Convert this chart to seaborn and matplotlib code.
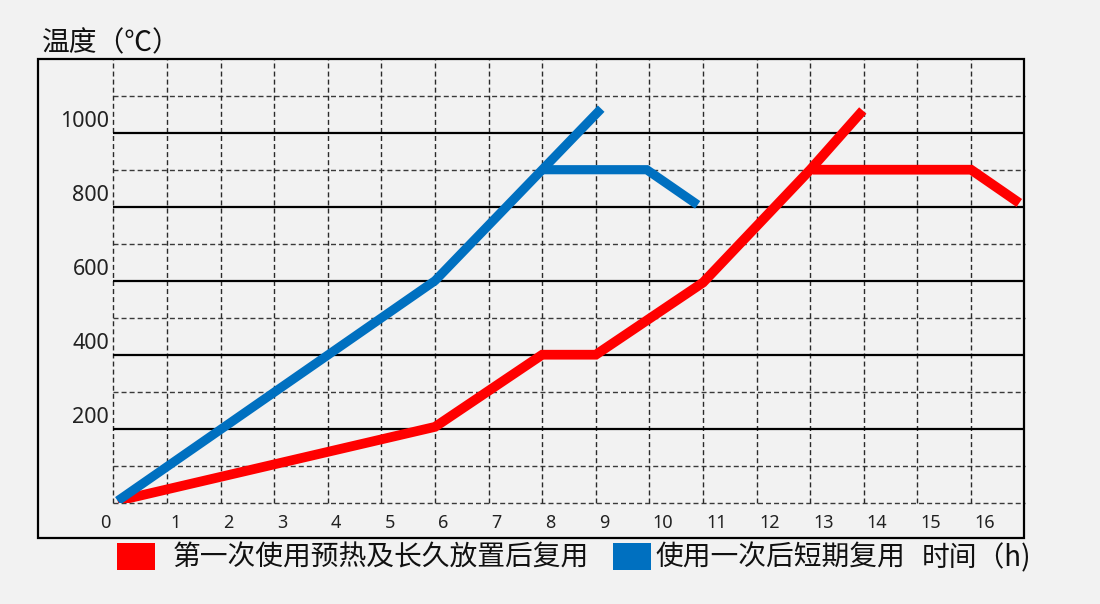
import matplotlib
matplotlib.use("Agg")
import matplotlib.pyplot as plt
import matplotlib.transforms as mtrans
from matplotlib.patches import Patch, Rectangle
import seaborn as sns
import pandas as pd

# ---------------- data ----------------
red_rise_x = [0.08, 6, 8, 9, 11, 13, 13.98]
red_rise_y = [5, 205, 400, 400, 595, 900, 1060]
red_hold_x = [13.05, 16, 16.9]
red_hold_y = [900, 900, 810]

blue_rise_x = [0.08, 6, 8, 9.1]
blue_rise_y = [5, 600, 900, 1065]
blue_hold_x = [8, 9.95, 10.9]
blue_hold_y = [900, 900, 805]

x_ticks = list(range(0, 17))
x_tick_labels = [str(v) for v in x_ticks]
y_ticks = [200, 400, 600, 800, 1000]
y_tick_labels = [str(v) for v in y_ticks]
solid_y = [200, 400, 600, 800, 1000]
dashed_y = [0, 100, 300, 500, 700, 900, 1100]
dashed_x = list(range(0, 17))

legend_red = "第一次使用预热及长久放置后复用"
legend_blue = "使用一次后短期复用"
x_title = "时间（h)"
y_title = "温度（℃）"

RED = "#ff0000"
BLUE = "#0070c0"
BG = "#f2f2f2"

# ---------------- style ----------------
sns.set_style("white")
plt.rcParams["font.family"] = ["Noto Sans CJK SC", "DejaVu Sans"]
plt.rcParams["axes.unicode_minus"] = False
TICK_FONT = ["Noto Sans", "DejaVu Sans"]

fig = plt.figure(figsize=(11, 6.04), dpi=100)
fig.patch.set_facecolor(BG)
ax = fig.add_axes([0.1031, 0.1677, 0.8284, 0.7351])
ax.set_facecolor(BG)
for s in ax.spines.values():
    s.set_visible(False)

ax.set_xlim(0, 17)
ax.set_ylim(0, 1200)

# grid
ax.hlines(dashed_y, 0, 17, colors="#3a3a3a", linewidth=1.0,
          linestyles=(0, (3.6, 2.2)), clip_on=False, zorder=1)
ax.vlines(dashed_x, 0, 1200, colors="#2a2a2a", linewidth=1.0,
          linestyles=(0, (3.6, 2.2)), clip_on=False, zorder=1)
ax.hlines(solid_y, 0, 17, colors="black", linewidth=1.6, clip_on=False, zorder=2)

# lines
segments = [
    (red_rise_x, red_rise_y, RED, 7.0),
    (red_hold_x, red_hold_y, RED, 7.0),
    (blue_rise_x, blue_rise_y, BLUE, 6.6),
    (blue_hold_x, blue_hold_y, BLUE, 6.6),
]
for xs, ys, c, lw in segments:
    df = pd.DataFrame({"x": xs, "y": ys})
    sns.lineplot(data=df, x="x", y="y", sort=False, estimator=None, ax=ax,
                 color=c, linewidth=lw, legend=False, zorder=3,
                 solid_capstyle="butt", solid_joinstyle="miter")

# ticks
ax.set_xticks(x_ticks)
ax.set_xticklabels(x_tick_labels, fontsize=13, color="#222222", family=TICK_FONT)
ax.set_yticks(y_ticks)
ax.set_yticklabels(y_tick_labels, fontsize=15.5, color="#222222", family=TICK_FONT)
ax.tick_params(axis="both", length=0)
ax.tick_params(axis="x", pad=8)
ax.tick_params(axis="y", pad=3)

for i, lab in enumerate(ax.get_xticklabels()):
    if i == 0:
        lab.set_ha("right")
        dx = -3 / 100
    else:
        lab.set_ha("left")
        dx = 3 / 100
    lab.set_transform(lab.get_transform() + mtrans.ScaledTranslation(dx, 0, fig.dpi_scale_trans))
for lab in ax.get_yticklabels():
    lab.set_transform(lab.get_transform() + mtrans.ScaledTranslation(0, 14 / 100, fig.dpi_scale_trans))

ax.set_xlabel("")
ax.set_ylabel("")
ax.set_xlabel(x_title, fontsize=20, ha="left", va="center", color="#111111")
ax.xaxis.set_label_coords(0.8874, -0.1245)
ax.set_ylabel(y_title, fontsize=20, rotation=0, ha="left", va="center", color="#111111")
ax.yaxis.set_label_coords(-0.0784, 1.0354)

# outer frame
fig.add_artist(Rectangle((0.03455, 0.1093), 0.8964, 0.7930, transform=fig.transFigure,
                         fill=False, edgecolor="black", linewidth=1.6, zorder=10))

# legends
leg_y = (604 - 558) / 604
leg1 = fig.legend(handles=[Patch(facecolor=RED, edgecolor="none")], labels=[legend_red],
                  loc="center left", bbox_to_anchor=(116.7 / 1100, leg_y),
                  frameon=False, fontsize=20, handlelength=1.368, handleheight=1.08,
                  handletextpad=0.65, borderpad=0, borderaxespad=0)
leg2 = fig.legend(handles=[Patch(facecolor=BLUE, edgecolor="none")], labels=[legend_blue],
                  loc="center left", bbox_to_anchor=(613.3 / 1100, leg_y),
                  frameon=False, fontsize=20, handlelength=1.368, handleheight=1.08,
                  handletextpad=0.14, borderpad=0, borderaxespad=0)
for lg in (leg1, leg2):
    for t in lg.get_texts():
        t.set_color("#111111")

fig.savefig("out.png", dpi=100, facecolor=BG)
